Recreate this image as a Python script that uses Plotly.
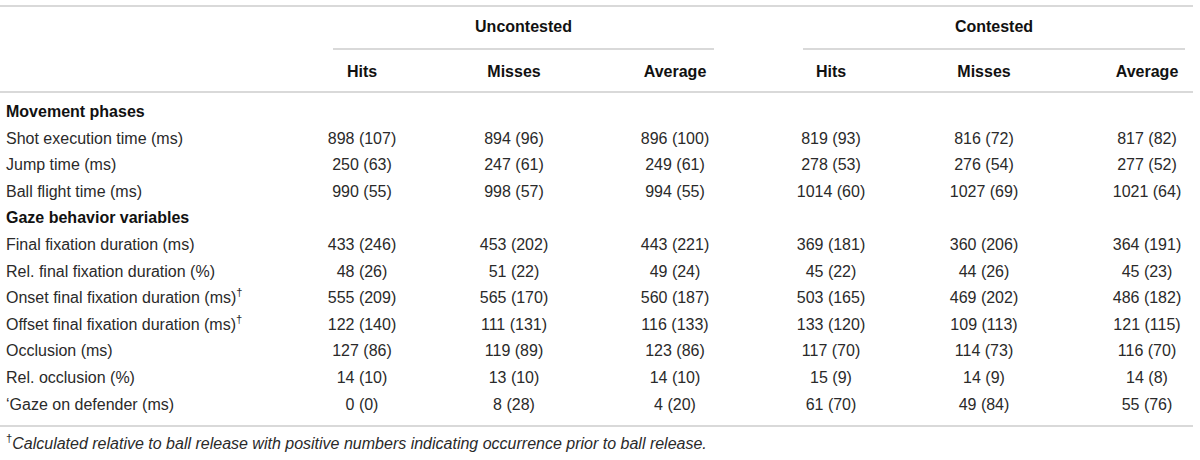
import plotly.graph_objects as go

# --- data ---
groups = ["Uncontested", "Contested"]
columns = ["Hits", "Misses", "Average", "Hits", "Misses", "Average"]

row_labels = [
    "Movement phases",
    "Shot execution time (ms)",
    "Jump time (ms)",
    "Ball flight time (ms)",
    "Gaze behavior variables",
    "Final fixation duration (ms)",
    "Rel. final fixation duration (%)",
    "Onset final fixation duration (ms)<sup>†</sup>",
    "Offset final fixation duration (ms)<sup>†</sup>",
    "Occlusion (ms)",
    "Rel. occlusion (%)",
    "\u2018Gaze on defender (ms)",
]
section_rows = [0, 4]

# means and SDs per column (None for section header rows)
unc_hits_m = [None, 898, 250, 990, None, 433, 48, 555, 122, 127, 14, 0]
unc_hits_sd = [None, 107, 63, 55, None, 246, 26, 209, 140, 86, 10, 0]
unc_miss_m = [None, 894, 247, 998, None, 453, 51, 565, 111, 119, 13, 8]
unc_miss_sd = [None, 96, 61, 57, None, 202, 22, 170, 131, 89, 10, 28]
unc_avg_m = [None, 896, 249, 994, None, 443, 49, 560, 116, 123, 14, 4]
unc_avg_sd = [None, 100, 61, 55, None, 221, 24, 187, 133, 86, 10, 20]
con_hits_m = [None, 819, 278, 1014, None, 369, 45, 503, 133, 117, 15, 61]
con_hits_sd = [None, 93, 53, 60, None, 181, 22, 165, 120, 70, 9, 70]
con_miss_m = [None, 816, 276, 1027, None, 360, 44, 469, 109, 114, 14, 49]
con_miss_sd = [None, 72, 54, 69, None, 206, 26, 202, 113, 73, 9, 84]
con_avg_m = [None, 817, 277, 1021, None, 364, 45, 486, 121, 116, 14, 55]
con_avg_sd = [None, 82, 52, 64, None, 191, 23, 182, 115, 70, 8, 76]

footnote = ("<sup>†</sup><i>Calculated relative to ball release with positive numbers "
            "indicating occurrence prior to ball release.</i>")

series = [
    (unc_hits_m, unc_hits_sd), (unc_miss_m, unc_miss_sd), (unc_avg_m, unc_avg_sd),
    (con_hits_m, con_hits_sd), (con_miss_m, con_miss_sd), (con_avg_m, con_avg_sd),
]

# --- layout geometry (page pixels, y downward) ---
W, H = 1200, 460
col_x = [362, 514, 675, 831, 984, 1147]
group_spans = [(333, 714), (803, 1185)]
label_x = 6
y_group, y_cols = 28, 73
y_first_row, row_step = 113, 26.6
y_foot = 445
FONT = "Liberation Sans, Arial, Helvetica, sans-serif"
SIZE = 16
BODY = "#2a2a2a"
HEAD = "#111111"
RULE = "#cccccc"

row_y = [y_first_row + i * row_step for i in range(len(row_labels))]


def text_trace(xs, ys, texts, color, pos="middle center"):
    return go.Scatter(x=xs, y=ys, text=texts, mode="text", textposition=pos,
                      textfont=dict(family=FONT, size=SIZE, color=color),
                      cliponaxis=False, hoverinfo="skip")


fig = go.Figure()

# group headers
fig.add_trace(text_trace([(a + b) / 2 for a, b in group_spans], [y_group] * len(groups),
                         [f"<b>{g}</b>" for g in groups], HEAD))

# column headers
fig.add_trace(text_trace(col_x, [y_cols] * len(columns),
                         [f"<b>{c}</b>" for c in columns], HEAD))

# row labels
for i, lab in enumerate(row_labels):
    bold = i in section_rows
    fig.add_trace(text_trace([label_x], [row_y[i]],
                             [f"<b>{lab}</b>" if bold else lab],
                             HEAD if bold else BODY, "middle right"))

# cell values
for cx, (means, sds) in zip(col_x, series):
    xs, ys, txt = [], [], []
    for i, (m, s) in enumerate(zip(means, sds)):
        if m is None:
            continue
        xs.append(cx)
        ys.append(row_y[i])
        txt.append(f"{m} ({s})")
    fig.add_trace(text_trace(xs, ys, txt, BODY))

# footnote
fig.add_trace(text_trace([label_x], [y_foot], [footnote], BODY, "middle right"))

# rules
shapes = [
    dict(type="line", x0=0, x1=1193, y0=6, y1=6),
    dict(type="line", x0=0, x1=1193, y0=92, y1=92),
    dict(type="line", x0=0, x1=1193, y0=426, y1=426),
]
for a, b in group_spans:
    shapes.append(dict(type="line", x0=a, x1=b, y0=49, y1=49))
for s in shapes:
    s.update(xref="x", yref="y", line=dict(color=RULE, width=1.6), layer="below")

fig.update_layout(
    width=W, height=H,
    margin=dict(l=0, r=0, t=0, b=0),
    paper_bgcolor="white", plot_bgcolor="white",
    showlegend=False, shapes=shapes,
    xaxis=dict(range=[0, W], visible=False, fixedrange=True),
    yaxis=dict(range=[H, 0], visible=False, fixedrange=True),
)

# drop the page's default body margin so the figure sits at the window origin
fig.write_html("out.html", config={"displayModeBar": False},
               post_script="document.body.style.margin='0';"
                           "document.body.style.overflow='hidden';")
